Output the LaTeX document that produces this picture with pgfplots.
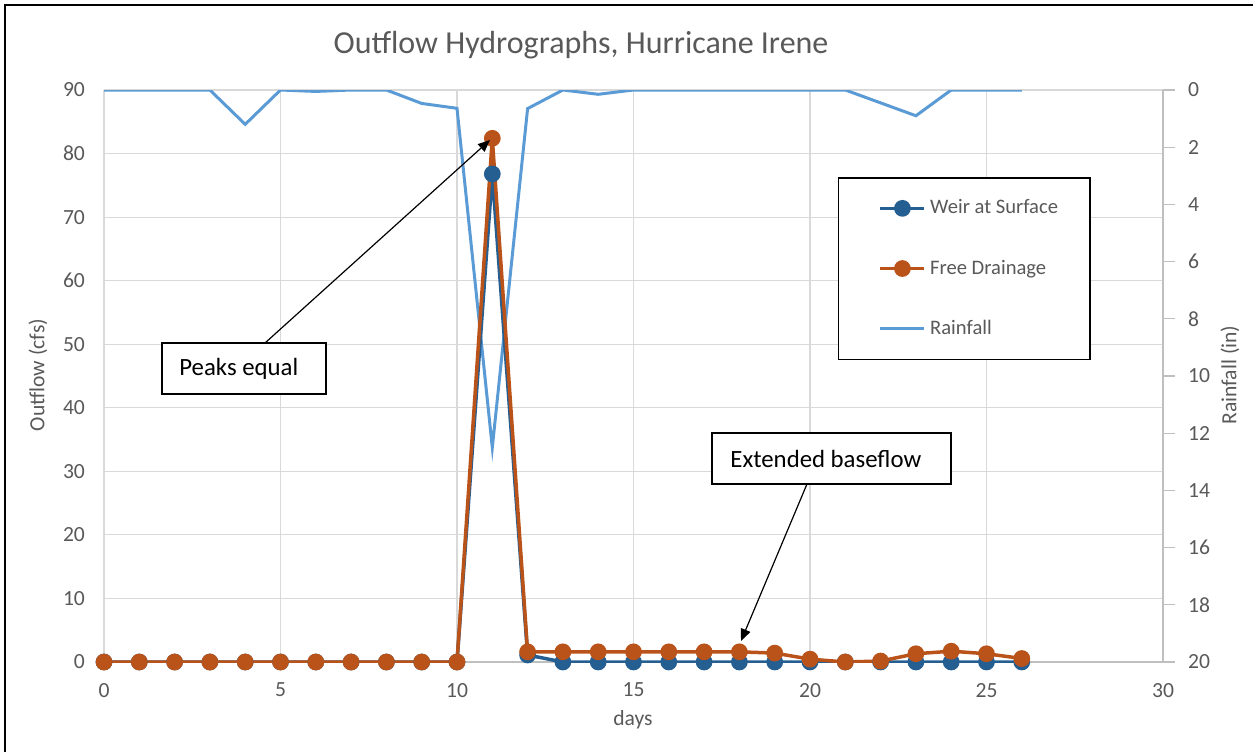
\documentclass[border=0pt]{standalone}
\usepackage{pgfplots}
\pgfplotsset{compat=1.18}
\usepackage{fontspec}
\setmainfont{Carlito}
\usetikzlibrary{arrows.meta}

\definecolor{weir}{HTML}{255E91}
\definecolor{free}{HTML}{BA531A}
\definecolor{rain}{HTML}{5B9BD5}
\definecolor{txt}{HTML}{595959}
\definecolor{gridc}{HTML}{D9D9D9}
\definecolor{axc}{HTML}{BFBFBF}

\pgfplotsset{
  base/.style={
    scale only axis, width=529.5pt, height=286pt,
    at={(52pt,44.5pt)}, anchor=south west,
    xmin=0, xmax=30,
    /pgf/number format/assume math mode=true,
    tick label style={font=\fontsize{10.8}{13}\selectfont, text=txt},
  },
}

\begin{document}
\begin{tikzpicture}
% picture frame in pixel units of the reference
\begin{scope}[yshift=375.5pt, x=0.5pt, y=-0.5pt]
  \path[use as bounding box] (0,0) rectangle (1253,751);
  \draw[black, line width=1pt] (5,800) -- (5,5) -- (1300,5);
\end{scope}

% primary axis: grid, left and bottom ticks
\begin{axis}[base,
    ymin=0, ymax=90,
    xtick={0,5,...,30}, ytick={0,10,...,90},
    grid=major, major grid style={gridc, line width=0.6pt},
    axis x line*=bottom, axis y line*=left,
    x axis line style={axc, line width=0.6pt, -},
    y axis line style={draw=none, -},
    major tick length=0pt,
    xticklabel style={yshift=-7pt},
    yticklabel style={xshift=-6pt},
]
\end{axis}

% secondary axis: rainfall
\begin{axis}[base,
    ymin=0, ymax=20, y dir=reverse,
    axis y line*=right, axis x line=none,
    ytick={0,2,...,20},
    y axis line style={axc, line width=0.6pt, -},
    ytick style={axc, line width=0.6pt},
    major tick length=6pt, tick align=outside,
    yticklabel style={xshift=3pt},
]
\addplot[rain, line width=1.5pt] coordinates {
(0,0) (1,0) (2,0) (3,0) (4,1.2) (5,0) (6,0.05) (7,0) (8,0) (9,0.47)
(10,0.64) (11,12.5) (12,0.65) (13,0) (14,0.15) (15,0) (16,0) (17,0)
(18,0) (19,0) (20,0) (21,0) (22,0.45) (23,0.9) (24,0) (25,0) (26,0)
};
\end{axis}

% primary series on top
\begin{axis}[base,
    ymin=0, ymax=90, hide axis,
    legend style={at={(0.693,0.848)}, anchor=north west, draw=black,
      line width=0.8pt, font=\fontsize{10.3}{12.5}\selectfont, text=txt,
      inner xsep=14pt, inner ysep=9pt, row sep=17.5pt},
    legend cell align=left,
    legend image code/.code={
      \path (0pt,0pt);
      \draw[mark repeat=2, mark phase=2] plot coordinates {(6pt,0pt) (17pt,0pt) (28pt,0pt)};},
]
\addplot[weir, line width=1.75pt, mark=*, mark size=3.3pt, mark options={fill=weir}] coordinates {
(0,0) (1,0) (2,0) (3,0) (4,0) (5,0) (6,0) (7,0) (8,0) (9,0)
(10,0) (11,76.8) (12,1.1) (13,0) (14,0) (15,0) (16,0) (17,0)
(18,0) (19,0) (20,0) (21,0) (22,0) (23,0) (24,0) (25,0) (26,0)
};
\addlegendentry{Weir at Surface}
\addplot[free, line width=1.75pt, mark=*, mark size=3.3pt, mark options={fill=free}] coordinates {
(0,0) (1,0) (2,0) (3,0) (4,0) (5,0) (6,0) (7,0) (8,0) (9,0)
(10,0) (11,82.4) (12,1.6) (13,1.6) (14,1.6) (15,1.6) (16,1.6) (17,1.6)
(18,1.6) (19,1.4) (20,0.45) (21,0) (22,0.15) (23,1.3) (24,1.7) (25,1.3) (26,0.55)
};
\addlegendentry{Free Drainage}
\addlegendimage{rain, line width=1.5pt}
\addlegendentry{Rainfall}
\end{axis}

% titles and annotations, pixel units of the reference
\begin{scope}[yshift=375.5pt, x=0.5pt, y=-0.5pt]
  \node[text=txt, font=\fontsize{16}{19}\selectfont] at (581,45) {Outflow Hydrographs, Hurricane Irene};
  \node[text=txt, font=\fontsize{10.8}{13}\selectfont, rotate=90] at (38,375) {Outflow (cfs)};
  \node[text=txt, font=\fontsize{10.8}{13}\selectfont, rotate=90] at (1230,375) {Rainfall (in)};
  \node[text=txt, font=\fontsize{10.8}{13}\selectfont] at (633,720) {days};

  \draw[black, line width=0.8pt, fill=white] (162,343) rectangle (326,394);
  \node[anchor=west, inner sep=0pt, font=\fontsize{12.4}{14}\selectfont] at (179,369) {Peaks equal};
  \draw[black, line width=0.8pt, fill=white] (712,433) rectangle (951,484);
  \node[anchor=west, inner sep=0pt, font=\fontsize{12.4}{14}\selectfont] at (730,459) {Extended baseflow};

  \draw[black, line width=0.6pt, -{Triangle[length=6pt, width=5pt]}] (265,343) -- (490,140);
  \draw[black, line width=0.6pt, -{Triangle[length=6pt, width=5pt]}] (807,484) -- (741,641);
\end{scope}
\end{tikzpicture}
\end{document}
